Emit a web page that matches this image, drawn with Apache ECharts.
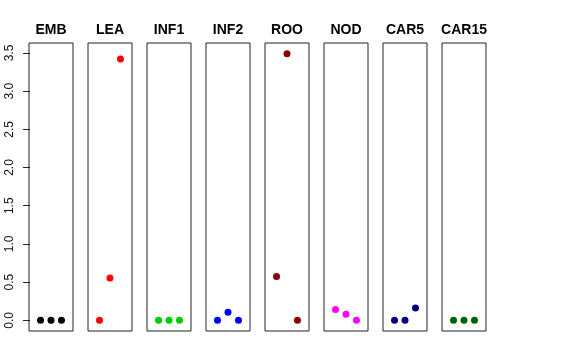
<!DOCTYPE html>
<html>
<head>
<meta charset="utf-8">
<script src="https://cdn.jsdelivr.net/npm/echarts@6/dist/echarts.min.js"></script>
<style>html,body{margin:0;padding:0;background:#fff}#c{width:576px;height:360px}</style>
</head>
<body>
<div id="c"></div>
<script>
var panels = ["EMB", "LEA", "INF1", "INF2", "ROO", "NOD", "CAR5", "CAR15"];
var colors = ["#000000", "#FF0000", "#00CD00", "#0000FF", "#8B0000", "#FF00FF", "#000080", "#006400"];
var xPositions = [1, 2, 3];
var values = [
  [0, 0, 0],
  [0, 0.555, 3.42],
  [0, 0, 0],
  [0, 0.105, 0],
  [0.575, 3.49, 0],
  [0.14, 0.08, 0],
  [0, 0, 0.16],
  [0, 0, 0]
];
var yTicks = [0, 0.5, 1, 1.5, 2, 2.5, 3, 3.5];

var chart = echarts.init(document.getElementById('c'), null, {renderer: 'canvas'});
var grids = [], xAxes = [], yAxes = [], series = [], titles = [];
var left0 = 29, step = 59, w = 44;
panels.forEach(function (name, i) {
  var l = left0 + i * step;
  grids.push({left: l, width: w, top: 43, height: 288, show: true, borderColor: '#222', borderWidth: 1, backgroundColor: 'transparent', containLabel: false});
  xAxes.push({gridIndex: i, type: 'value', min: -0.1, max: 4.1, show: false});
  yAxes.push({
    gridIndex: i, type: 'value', min: -0.14, max: 3.63,
    show: i === 0,
    splitLine: {show: false},
    axisLine: {show: false},
    axisTick: {show: i === 0, length: 7, lineStyle: {color: '#222', width: 1}, customValues: yTicks},
    axisLabel: {show: i === 0, rotate: 90, margin: 13, fontSize: 12, color: '#111', fontFamily: 'Liberation Sans, Arial, sans-serif',
      customValues: yTicks, formatter: function (v) { return v.toFixed(1); }}
  });
  series.push({
    type: 'scatter', xAxisIndex: i, yAxisIndex: i, symbolSize: 7,
    itemStyle: {color: colors[i], opacity: 1},
    data: xPositions.map(function (x, k) { return [x, values[i][k]]; }),
    silent: true, animation: false
  });
  titles.push({text: name, left: l + w / 2, top: 23, textAlign: 'center', padding: 0,
    textStyle: {fontSize: 14, fontWeight: 'bold', color: '#000', fontFamily: 'Liberation Sans, Arial, sans-serif'}});
});
chart.setOption({
  animation: false,
  title: titles,
  grid: grids,
  xAxis: xAxes,
  yAxis: yAxes,
  series: series
});
</script>
</body>
</html>
